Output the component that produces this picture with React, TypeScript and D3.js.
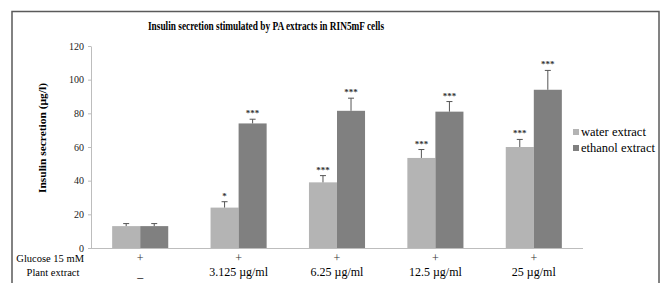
import React, { useRef, useEffect } from 'react';
import * as d3 from 'd3';

const categories = ['ctrl', '3.125', '6.25', '12.5', '25'];
const glucoseLabels = ['+', '+', '+', '+', '+'];
const plantLabels = ['–', '3.125 µg/ml', '6.25 µg/ml', '12.5 µg/ml', '25 µg/ml'];
const seriesNames = ['water extract', 'ethanol extract'];
const seriesColors = ['#b4b4b4', '#808080'];
const waterValues = [13, 24, 39, 53.5, 60];
const waterErrors = [1.5, 3.5, 4, 5, 4.5];
const ethanolValues = [13, 74, 81.5, 81, 94];
const ethanolErrors = [1.5, 2.5, 7.5, 6, 11.5];
const waterSig = ['', '*', '***', '***', '***'];
const ethanolSig = ['', '***', '***', '***', '***'];
const yTicks = [0, 20, 40, 60, 80, 100, 120];

const FONT = '"Liberation Serif", "Times New Roman", serif';

const App: React.FC = () => {
  const ref = useRef<SVGSVGElement>(null);

  useEffect(() => {
    const svg = d3.select(ref.current!);
    svg.selectAll('*').remove();
    svg.attr('font-family', FONT);

    // outer frame
    svg.append('rect')
      .attr('x', 12).attr('y', 11.5)
      .attr('width', 647).attr('height', 290)
      .attr('fill', 'white')
      .attr('stroke', '#5a5a5a')
      .attr('stroke-width', 1.5);

    const x0 = d3.scaleBand<string>()
      .domain(categories)
      .range([91, 583])
      .paddingInner(0.43)
      .paddingOuter(0.215);
    const x1 = d3.scaleBand<string>()
      .domain(seriesNames)
      .range([0, x0.bandwidth()]);
    const y = d3.scaleLinear().domain([0, 120]).range([248, 46]);

    // title
    svg.append('text')
      .attr('x', 266).attr('y', 30)
      .attr('text-anchor', 'middle')
      .attr('font-size', 11.5)
      .attr('font-weight', 'bold')
      .attr('textLength', 236)
      .attr('lengthAdjust', 'spacingAndGlyphs')
      .text('Insulin secretion stimulated by PA  extracts  in RIN5mF cells');

    // y axis
    const yAxis = svg.append('g')
      .attr('transform', 'translate(91,0)')
      .call(d3.axisLeft(y).tickValues(yTicks).tickSize(3).tickSizeOuter(0).tickPadding(4));
    yAxis.select('.domain').attr('stroke', '#bdbdbd');
    yAxis.selectAll('.tick line').attr('stroke', '#bdbdbd');
    yAxis.selectAll('.tick text')
      .attr('font-family', FONT)
      .attr('font-size', 10)
      .attr('fill', '#222');

    // y label
    svg.append('text')
      .attr('transform', 'translate(46,138) rotate(-90)')
      .attr('text-anchor', 'middle')
      .attr('font-size', 11)
      .attr('font-weight', 'bold')
      .attr('textLength', 110)
      .attr('lengthAdjust', 'spacingAndGlyphs')
      .text('Insulin secretion (µg/l)');

    const rows = categories.map((c, i) => ({
      cat: c,
      vals: [
        { s: seriesNames[0], v: waterValues[i], e: waterErrors[i], sig: waterSig[i] },
        { s: seriesNames[1], v: ethanolValues[i], e: ethanolErrors[i], sig: ethanolSig[i] },
      ],
    }));

    const groups = svg.append('g').selectAll('g')
      .data(rows)
      .enter().append('g')
      .attr('transform', d => `translate(${x0(d.cat)},0)`);

    groups.selectAll('rect')
      .data(d => d.vals)
      .enter().append('rect')
      .attr('x', d => x1(d.s)!)
      .attr('y', d => y(d.v))
      .attr('width', x1.bandwidth())
      .attr('height', d => y(0) - y(d.v))
      .attr('fill', (d, i) => seriesColors[i]);

    // error bars (upper only)
    const err = groups.selectAll('g.err')
      .data(d => d.vals)
      .enter().append('g')
      .attr('class', 'err')
      .attr('transform', d => `translate(${x1(d.s)! + x1.bandwidth() / 2},0)`);
    err.append('line')
      .attr('x1', 0).attr('x2', 0)
      .attr('y1', d => y(d.v)).attr('y2', d => y(d.v + d.e))
      .attr('stroke', '#555').attr('stroke-width', 1);
    err.append('line')
      .attr('x1', -3).attr('x2', 3)
      .attr('y1', d => y(d.v + d.e)).attr('y2', d => y(d.v + d.e))
      .attr('stroke', '#555').attr('stroke-width', 1);
    err.append('text')
      .attr('x', 0)
      .attr('y', d => y(d.v + d.e) - 3)
      .attr('text-anchor', 'middle')
      .attr('font-size', 9)
      .attr('font-weight', 'bold')
      .attr('fill', '#333')
      .text(d => d.sig);

    // x axis line
    svg.append('line')
      .attr('x1', 91).attr('x2', 583)
      .attr('y1', 248.5).attr('y2', 248.5)
      .attr('stroke', '#bdbdbd');

    // condition rows
    svg.append('text')
      .attr('x', 84).attr('y', 262)
      .attr('text-anchor', 'end')
      .attr('font-size', 10.5)
      .text('Glucose 15 mM');
    svg.append('text')
      .attr('x', 53).attr('y', 276)
      .attr('text-anchor', 'middle')
      .attr('font-size', 10.5)
      .text('Plant extract');

    const center = (c: string) => x0(c)! + x0.bandwidth() / 2;
    svg.append('g').selectAll('text')
      .data(glucoseLabels)
      .enter().append('text')
      .attr('x', (d, i) => center(categories[i]))
      .attr('y', 262)
      .attr('text-anchor', 'middle')
      .attr('font-size', 12)
      .attr('fill', '#333')
      .text(d => d);
    svg.append('g').selectAll('text')
      .data(plantLabels)
      .enter().append('text')
      .attr('x', (d, i) => center(categories[i]))
      .attr('y', (d, i) => (i === 0 ? 281 : 276))
      .attr('text-anchor', 'middle')
      .attr('font-size', 12)
      .text(d => d);

    // legend
    const legend = svg.append('g').selectAll('g')
      .data(seriesNames)
      .enter().append('g')
      .attr('transform', (d, i) => `translate(573,${132 + i * 16})`);
    legend.append('rect')
      .attr('x', 0).attr('y', -3)
      .attr('width', 6).attr('height', 6)
      .attr('fill', (d, i) => seriesColors[i]);
    legend.append('text')
      .attr('x', 8).attr('y', 4)
      .attr('font-size', 12.5)
      .text(d => d);
  }, []);

  return (
    <svg ref={ref} width={660} height={283}
      style={{ position: 'absolute', left: 0, top: 0, background: 'white' }} />
  );
};

export default App;
